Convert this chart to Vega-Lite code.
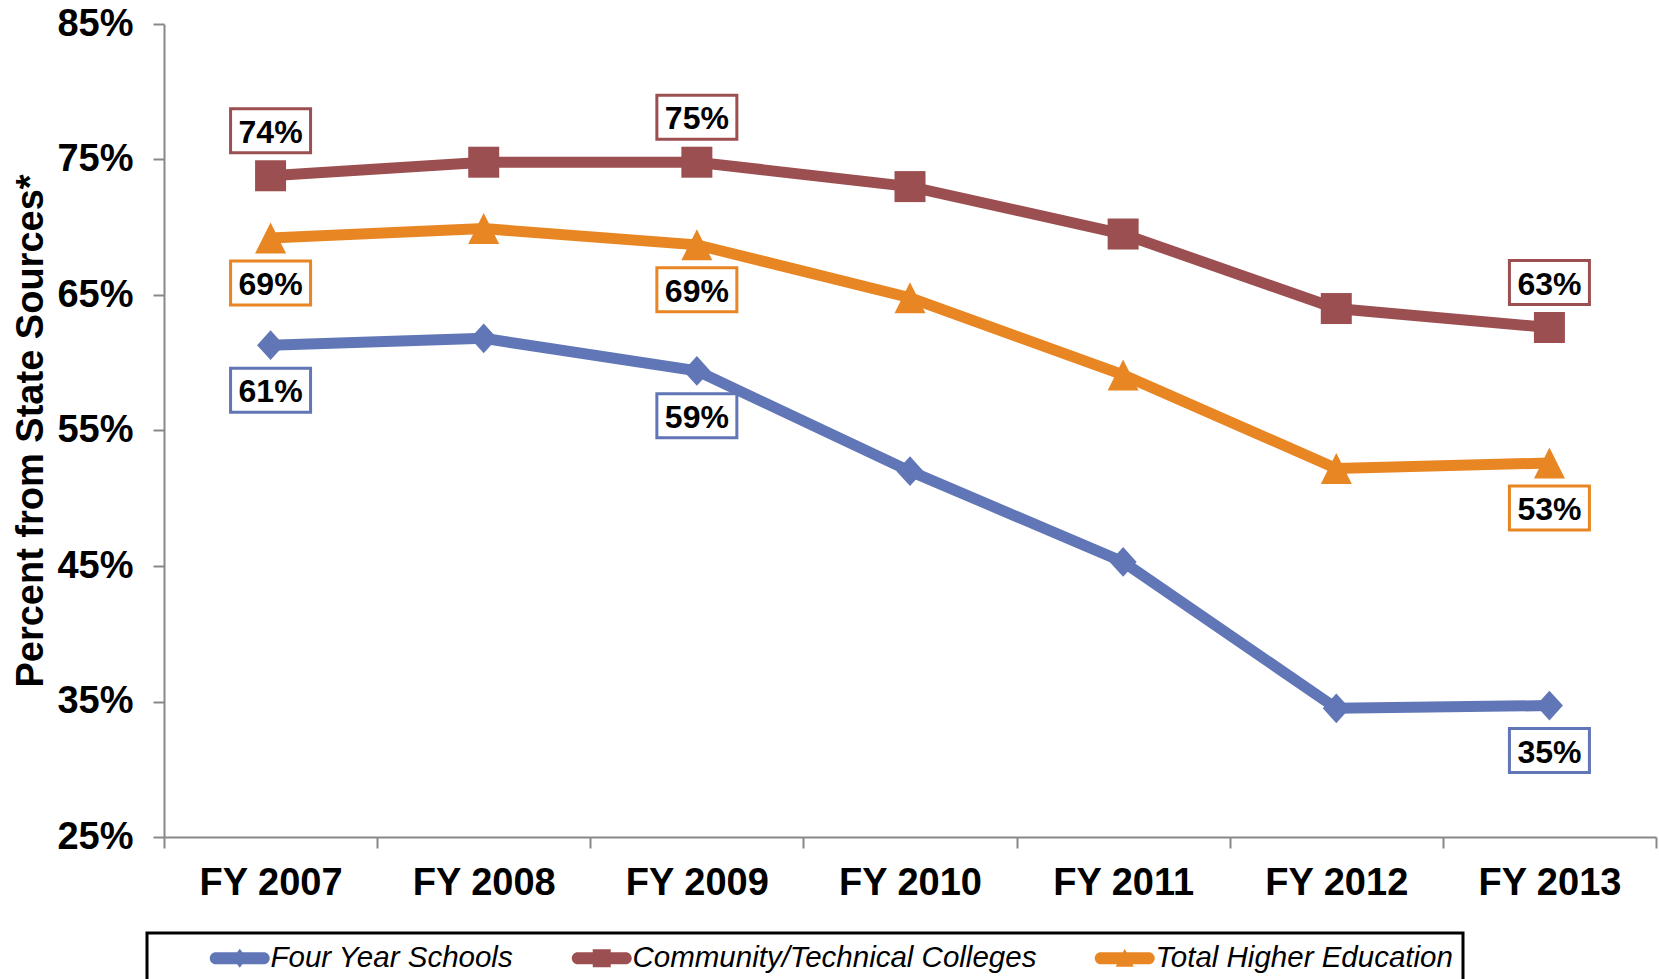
{
  "$schema": "https://vega.github.io/schema/vega-lite/v6.json",
  "width": 1492,
  "height": 813,
  "autosize": {"type": "none"},
  "padding": {"left": 164, "top": 24, "right": 3, "bottom": 142},
  "config": {
    "view": {"stroke": null},
    "font": "Liberation Sans",
    "axis": {"grid": false, "domainColor": "#888888", "tickColor": "#888888", "domainWidth": 2, "tickWidth": 2, "tickSize": 11, "labelColor": "#000000", "labelFontWeight": "bold", "labelFontSize": 38, "labelFont": "Liberation Sans"}
  },
  "data": {
    "values": [
      {"year": "FY 2007", "series": "Four Year Schools", "value": 0.613},
      {"year": "FY 2008", "series": "Four Year Schools", "value": 0.618},
      {"year": "FY 2009", "series": "Four Year Schools", "value": 0.594},
      {"year": "FY 2010", "series": "Four Year Schools", "value": 0.520},
      {"year": "FY 2011", "series": "Four Year Schools", "value": 0.453},
      {"year": "FY 2012", "series": "Four Year Schools", "value": 0.345},
      {"year": "FY 2013", "series": "Four Year Schools", "value": 0.347},
      {"year": "FY 2007", "series": "Community/Technical Colleges", "value": 0.738},
      {"year": "FY 2008", "series": "Community/Technical Colleges", "value": 0.748},
      {"year": "FY 2009", "series": "Community/Technical Colleges", "value": 0.748},
      {"year": "FY 2010", "series": "Community/Technical Colleges", "value": 0.730},
      {"year": "FY 2011", "series": "Community/Technical Colleges", "value": 0.695},
      {"year": "FY 2012", "series": "Community/Technical Colleges", "value": 0.640},
      {"year": "FY 2013", "series": "Community/Technical Colleges", "value": 0.626},
      {"year": "FY 2007", "series": "Total Higher Education", "value": 0.692},
      {"year": "FY 2008", "series": "Total Higher Education", "value": 0.699},
      {"year": "FY 2009", "series": "Total Higher Education", "value": 0.687},
      {"year": "FY 2010", "series": "Total Higher Education", "value": 0.648},
      {"year": "FY 2011", "series": "Total Higher Education", "value": 0.591},
      {"year": "FY 2012", "series": "Total Higher Education", "value": 0.522},
      {"year": "FY 2013", "series": "Total Higher Education", "value": 0.526}
    ]
  },
  "encoding": {
    "x": {
      "field": "year", "type": "ordinal",
      "scale": {"paddingInner": 0, "paddingOuter": 0},
      "axis": {"title": null, "labelAngle": 0, "tickBand": "extent", "labelPadding": 16}
    },
    "y": {
      "field": "value", "type": "quantitative",
      "scale": {"domain": [0.25, 0.85], "nice": false, "zero": false},
      "axis": {"values": [0.25, 0.35, 0.45, 0.55, 0.65, 0.75, 0.85], "format": ".0%", "labelPadding": 20, "title": "Percent from State Sources*", "titleFontSize": 38, "titleFontWeight": "bold", "titleColor": "#000000", "titlePadding": 6}
    }
  },
  "layer": [
    {
      "mark": {"type": "line", "strokeWidth": 11},
      "encoding": {
        "color": {
          "field": "series", "type": "nominal",
          "scale": {"domain": ["Four Year Schools", "Community/Technical Colleges", "Total Higher Education"], "range": ["#6176b6", "#9c4f51", "#e88624"]},
          "legend": {
            "title": null, "orient": "none", "legendX": -17, "legendY": 909, "direction": "horizontal",
            "strokeColor": "#000000", "padding": 10, "symbolSize": 400, "symbolStrokeWidth": 0,
            "labelFontSize": 29.5, "labelFontStyle": "italic", "labelColor": "#000000", "labelFont": "Liberation Sans",
            "labelOffset": 84, "columnPadding": 5, "labelLimit": 800,
            "labelExpr": "datum.value === 'Total Higher Education' ? datum.label + '\u00a0\u00a0\u00a0\u00a0\u00a0\u00a0' : datum.label",
            "encode": {
              "legend": {"update": {"strokeWidth": {"value": 3}}},
              "symbols": {"update": {
                "shape": {"signal": "datum.value === 'Four Year Schools' ? 'M4.4,-0.6H9.2A0.6,0.6 0 0 1 9.2,0.6H4.4A0.6,0.6 0 0 1 4.4,-0.6Z M6.8,-0.95L7.5,0L6.8,0.95L6.1,0Z' : datum.value === 'Community/Technical Colleges' ? 'M4.4,-0.6H9.2A0.6,0.6 0 0 1 9.2,0.6H4.4A0.6,0.6 0 0 1 4.4,-0.6Z M5.9,-0.9H7.7V0.9H5.9Z' : 'M4.4,-0.6H9.2A0.6,0.6 0 0 1 9.2,0.6H4.4A0.6,0.6 0 0 1 4.4,-0.6Z M6.8,-0.95L7.7,0.85H5.9Z'"},
                "fill": {"signal": "datum.value === 'Four Year Schools' ? '#6176b6' : datum.value === 'Community/Technical Colleges' ? '#9c4f51' : '#e88624'"},
                "fillOpacity": {"value": 1},
                "opacity": {"value": 1},
                "strokeWidth": {"value": 0},
                "size": {"value": 400}
              }}
            }
          }
        }
      }
    },
    {
      "transform": [{"filter": "datum.series === 'Four Year Schools'"}],
      "mark": {"type": "point", "filled": true, "opacity": 1, "shape": "M0,-1.1L1,0L0,1.1L-1,0Z", "size": 729},
      "encoding": {"color": {"field": "series", "type": "nominal", "legend": null}}
    },
    {
      "transform": [{"filter": "datum.series === 'Community/Technical Colleges'"}],
      "mark": {"type": "point", "filled": true, "opacity": 1, "shape": "square", "size": 961},
      "encoding": {"color": {"field": "series", "type": "nominal", "legend": null}}
    },
    {
      "transform": [{"filter": "datum.series === 'Total Higher Education'"}],
      "mark": {"type": "point", "filled": true, "opacity": 1, "shape": "M0,-1L1,1L-1,1Z", "size": 961},
      "encoding": {"color": {"field": "series", "type": "nominal", "legend": null}}
    },
    {
      "transform": [
        {"filter": {"field": "year", "oneOf": ["FY 2007", "FY 2009", "FY 2013"]}},
        {"filter": "datum.series === 'Community/Technical Colleges'"}
      ],
      "layer": [
        {
          "mark": {"type": "point", "shape": "M-1.818,-3.045H1.818V-1.045H-1.818Z", "size": 1936, "fill": "#ffffff", "fillOpacity": 1, "opacity": 1, "strokeWidth": 3, "filled": false},
          "encoding": {"stroke": {"field": "series", "type": "nominal", "scale": {"domain": ["Four Year Schools", "Community/Technical Colleges", "Total Higher Education"], "range": ["#6176b6", "#9c4f51", "#e88624"]}, "legend": null}}
        },
        {
          "mark": {"type": "text", "dy": -43, "baseline": "middle", "align": "center", "fontSize": 32, "fontWeight": "bold", "color": "#000000"},
          "encoding": {"text": {"field": "value", "type": "quantitative", "format": ".0%"}}
        }
      ]
    },
    {
      "transform": [
        {"filter": {"field": "year", "oneOf": ["FY 2007", "FY 2009", "FY 2013"]}},
        {"filter": "datum.series !== 'Community/Technical Colleges'"}
      ],
      "layer": [
        {
          "mark": {"type": "point", "shape": "M-1.818,1.045H1.818V3.045H-1.818Z", "size": 1936, "fill": "#ffffff", "fillOpacity": 1, "opacity": 1, "strokeWidth": 3, "filled": false},
          "encoding": {"stroke": {"field": "series", "type": "nominal", "legend": null}}
        },
        {
          "mark": {"type": "text", "dy": 47, "baseline": "middle", "align": "center", "fontSize": 32, "fontWeight": "bold", "color": "#000000"},
          "encoding": {"text": {"field": "value", "type": "quantitative", "format": ".0%"}}
        }
      ]
    }
  ]
}
